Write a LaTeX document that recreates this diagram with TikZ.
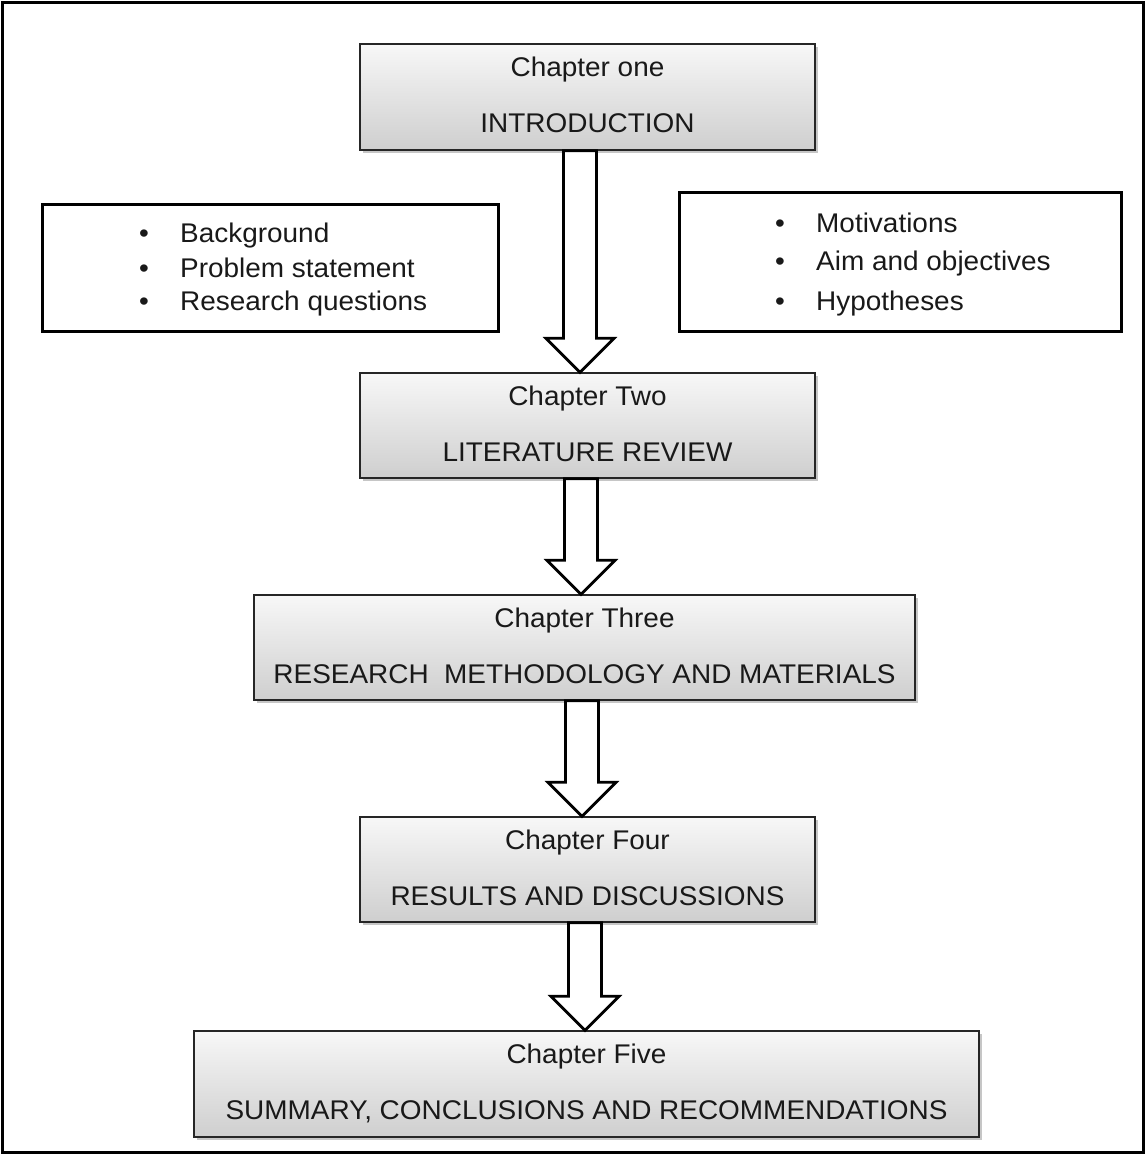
\documentclass[tikz,border=0pt]{standalone}
\usepackage{fontspec}
\setmainfont[FakeStretch=1.035]{Liberation Sans}
\usetikzlibrary{shadows,calc}
\newcommand\blockarrow[3]{%
  \draw[barrow] let \p1=(#1.south), \p2=(#2.north) in
    ({#3pt-16.5pt},\y1) -- ({#3pt-16.5pt},{\y2+34pt}) -- ({#3pt-34pt},{\y2+34pt})
    -- (#3pt,\y2) -- ({#3pt+34pt},{\y2+34pt}) -- ({#3pt+16.5pt},{\y2+34pt})
    -- ({#3pt+16.5pt},\y1) -- cycle;}
\begin{document}
\begin{tikzpicture}[x=1pt,y=-1pt,
  chap/.style={draw=black!85, line width=1.4pt, top color=gray!6, bottom color=gray!38,
    drop shadow={shadow xshift=3pt, shadow yshift=-3pt, fill=gray, opacity=0.45},
    align=center, font=\fontsize{27}{56}\selectfont, inner sep=0pt, text=black!90},
  listbox/.style={draw=black, line width=3pt, fill=white, inner sep=0pt},
  item/.style={anchor=base west, inner sep=0pt, font=\fontsize{27}{33}\selectfont, text=black!90},
  barrow/.style={draw=black, line width=2.8pt, fill=white, line join=miter}]
\useasboundingbox (0,0) rectangle (1146,1155);
\draw[line width=3pt] (2.5,2.5) rectangle (1143.5,1152.5);

\node[chap, minimum width=455pt, minimum height=106pt] (b1) at (587.5,97) {Chapter one\\INTRODUCTION\\[-52pt]};
\node[chap, minimum width=455pt, minimum height=105pt] (b2) at (587.5,425.5) {Chapter Two\\LITERATURE REVIEW\\[-52pt]};
\node[chap, minimum width=661pt, minimum height=105pt] (b3) at (584.5,647.5) {Chapter Three\\RESEARCH\ \ METHODOLOGY AND MATERIALS\\[-52pt]};
\node[chap, minimum width=455pt, minimum height=105pt] (b4) at (587.5,869.5) {Chapter Four\\RESULTS AND DISCUSSIONS\\[-52pt]};
\node[chap, minimum width=785pt, minimum height=106pt] (b5) at (586.5,1084) {Chapter Five\\SUMMARY, CONCLUSIONS AND RECOMMENDATIONS\\[-52pt]};

\node[listbox, minimum width=456pt, minimum height=126pt] (lbox) at (270,268) {};
\node[listbox, minimum width=442pt, minimum height=138pt] (rbox) at (900,262) {};

\node[item] (l1) at (139,243) {\makebox[41pt][l]{•}Background};
\node[item] (l2) at (139,277) {\makebox[41pt][l]{•}Problem statement};
\node[item] (l3) at (139,310) {\makebox[41pt][l]{•}Research questions};
\node[item] (r1) at (775,233) {\makebox[41pt][l]{•}Motivations};
\node[item] (r2) at (775,271) {\makebox[41pt][l]{•}Aim and objectives};
\node[item] (r3) at (775,310) {\makebox[41pt][l]{•}Hypotheses};

\blockarrow{b1}{b2}{580}
\blockarrow{b2}{b3}{581}
\blockarrow{b3}{b4}{582}
\blockarrow{b4}{b5}{585}
\end{tikzpicture}
\end{document}
